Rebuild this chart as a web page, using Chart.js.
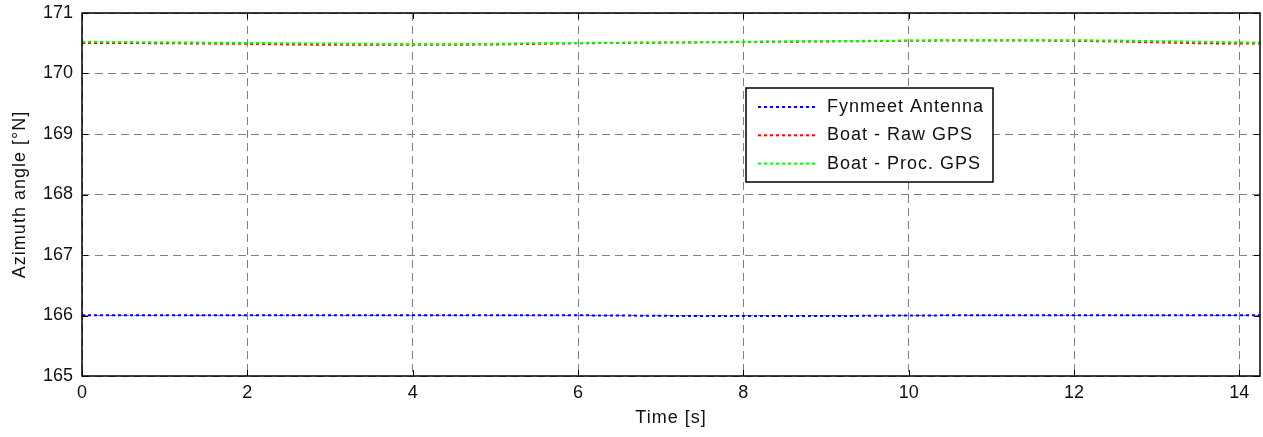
<!DOCTYPE html>
<html>
<head>
<meta charset="utf-8">
<script src="https://cdn.jsdelivr.net/npm/chart.js@4.4.0/dist/chart.umd.min.js"></script>
<style>
  html, body { margin: 0; padding: 0; background: #fff; }
  #wrap { width: 1263px; height: 437px; }
</style>
</head>
<body>
<div id="wrap"><canvas id="azimuth"></canvas></div>
<script>
// time stamps [s]
const times = [0, 0.5, 1, 1.5, 2, 2.5, 3, 3.5, 4, 4.5, 5, 5.5, 6, 6.5, 7, 7.5,
  8, 8.5, 9, 9.5, 10, 10.5, 11, 11.5, 12, 12.5, 13, 13.5, 14, 14.25];

// azimuth angle [deg N]
const fynmeet = [166.005, 166.005, 166.005, 166.005, 166.005, 166.005, 166.005, 166.005,
  166.005, 166.005, 166.005, 166.005, 166.003, 166.0, 165.995, 165.99,
  165.99, 165.99, 165.99, 165.995, 166.0, 166.003, 166.005, 166.005,
  166.005, 166.005, 166.005, 166.005, 166.005, 166.005];
const rawGps = [170.505, 170.505, 170.5, 170.495, 170.49, 170.48, 170.475, 170.475,
  170.475, 170.475, 170.48, 170.49, 170.5, 170.505, 170.51, 170.515,
  170.52, 170.525, 170.53, 170.535, 170.54, 170.545, 170.545, 170.545,
  170.54, 170.53, 170.515, 170.5, 170.495, 170.495];
const procGps = [170.525, 170.52, 170.515, 170.51, 170.505, 170.5, 170.495, 170.49,
  170.485, 170.485, 170.49, 170.5, 170.505, 170.51, 170.515, 170.52,
  170.525, 170.53, 170.535, 170.54, 170.545, 170.55, 170.55, 170.55,
  170.55, 170.545, 170.535, 170.525, 170.515, 170.51];

const seriesNames = ["Fynmeet Antenna", "Boat - Raw GPS", "Boat - Proc. GPS"];
const seriesColors = ["#0000ff", "#ff0000", "#00ff00"];
const xTicks = [0, 2, 4, 6, 8, 10, 12, 14];
const yTicks = [165, 166, 167, 168, 169, 170, 171];
const xTitle = "Time [s]";
const yTitle = "Azimuth angle [°N]";

const FONT = "Liberation Sans, Arial, sans-serif";

function toPoints(vals) {
  return vals.map((v, i) => ({ x: times[i], y: v }));
}

function makeSet(i, vals) {
  return {
    label: seriesNames[i],
    data: toPoints(vals),
    borderColor: seriesColors[i],
    borderWidth: 2,
    borderDash: [3, 3],
    pointRadius: 0,
    fill: false,
    tension: 0,
    order: 2 - i // last series on top, like matlab
  };
}

// box, inside ticks, axis titles and legend like matlab
const matlabBox = {
  id: "matlabBox",
  afterDraw(chart) {
    const ctx = chart.ctx;
    const a = chart.chartArea;
    const xs = chart.scales.x, ys = chart.scales.y;
    ctx.save();
    ctx.strokeStyle = "#000";
    ctx.lineWidth = 1;
    ctx.setLineDash([]);
    ctx.beginPath();
    xTicks.forEach(t => {
      const px = Math.round(xs.getPixelForValue(t)) + 0.5;
      ctx.moveTo(px, a.bottom); ctx.lineTo(px, a.bottom - 6);
      ctx.moveTo(px, a.top); ctx.lineTo(px, a.top + 6);
    });
    yTicks.forEach(t => {
      const py = Math.round(ys.getPixelForValue(t)) + 0.5;
      ctx.moveTo(a.left, py); ctx.lineTo(a.left + 6, py);
      ctx.moveTo(a.right, py); ctx.lineTo(a.right - 6, py);
    });
    ctx.stroke();
    ctx.lineWidth = 1.5;
    ctx.strokeRect(a.left, a.top, a.right - a.left, a.bottom - a.top);

    // axis titles
    ctx.fillStyle = "#111";
    ctx.font = "18px " + FONT;
    ctx.letterSpacing = "1px";
    ctx.textAlign = "center";
    ctx.textBaseline = "middle";
    ctx.fillText(xTitle, (a.left + a.right) / 2, 418);
    ctx.save();
    ctx.translate(20, (a.top + a.bottom) / 2);
    ctx.rotate(-Math.PI / 2);
    ctx.fillText(yTitle, 0, 0);
    ctx.restore();

    // legend
    const lx = 746, ly = 88, lw = 247, lh = 94;
    ctx.fillStyle = "#fff";
    ctx.fillRect(lx, ly, lw, lh);
    ctx.lineWidth = 1.5;
    ctx.strokeStyle = "#000";
    ctx.strokeRect(lx, ly, lw, lh);
    ctx.textAlign = "left";
    chart.data.datasets.forEach((ds, i) => {
      const ry = 107 + i * 28.3;
      ctx.strokeStyle = ds.borderColor;
      ctx.lineWidth = 2;
      ctx.setLineDash([3, 3]);
      ctx.beginPath();
      ctx.moveTo(758, ry); ctx.lineTo(818, ry);
      ctx.stroke();
      ctx.setLineDash([]);
      ctx.fillStyle = "#111";
      ctx.fillText(ds.label, 827, ry);
    });
    ctx.restore();
  }
};

new Chart(document.getElementById("azimuth"), {
  type: "line",
  data: {
    datasets: [makeSet(0, fynmeet), makeSet(1, rawGps), makeSet(2, procGps)]
  },
  options: {
    responsive: true,
    maintainAspectRatio: false,
    animation: false,
    layout: { padding: { left: 0, top: 13, right: 3, bottom: 0 } },
    plugins: {
      legend: { display: false },
      tooltip: { enabled: false }
    },
    scales: {
      x: {
        type: "linear",
        min: 0,
        max: 14.25,
        afterBuildTicks: s => { s.ticks = xTicks.map(v => ({ value: v })); },
        afterFit: s => { s.height = 61; s.paddingLeft = 0; s.paddingRight = 0; },
        grid: { color: "#808080", lineWidth: 1, drawTicks: false },
        border: { display: false, dash: [8, 5] },
        ticks: { color: "#111", padding: 6, font: { family: FONT, size: 18 }, maxRotation: 0 }
      },
      y: {
        min: 165,
        max: 171,
        afterBuildTicks: s => { s.ticks = yTicks.map(v => ({ value: v })); },
        afterFit: s => { s.width = 82; s.paddingTop = 0; s.paddingBottom = 0; },
        grid: { color: "#808080", lineWidth: 1, drawTicks: false },
        border: { display: false, dash: [8, 5] },
        ticks: { color: "#111", padding: 9, font: { family: FONT, size: 18 } }
      }
    }
  },
  plugins: [matlabBox]
});
</script>
</body>
</html>
